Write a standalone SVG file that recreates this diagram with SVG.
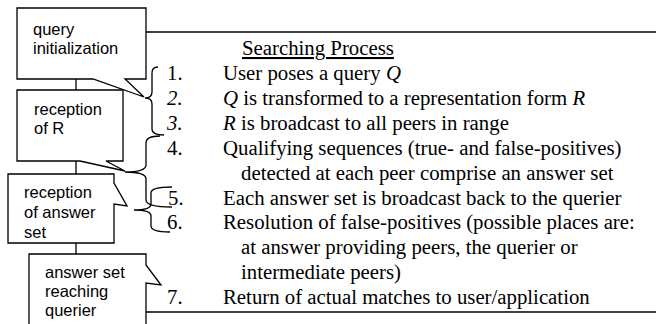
<svg xmlns="http://www.w3.org/2000/svg" width="656" height="324" viewBox="0 0 656 324">
<style>
.box{fill:#fff;stroke:#000;stroke-width:1.3;stroke-linejoin:miter}
.ln{fill:none;stroke:#000;stroke-width:1.3}
.bt{font-family:"Liberation Sans",Arial,sans-serif;font-size:16.5px;fill:#000}
.st{font-family:"Liberation Serif","Times New Roman",serif;font-size:20.8px;fill:#000}
.it{font-style:italic}
</style>
<rect width="656" height="324" fill="#fff"/>
<g id="connectors">
<path class="ln" d="M146,32 H656"/>
<path class="ln" d="M146,312 H656"/>
<path class="ln" d="M76,79 V90 M76,161 V174 M76,243 V254"/>
<path class="ln" d="M158,67 Q152,67 152,73 L152,92 Q152,98 145,98 Q152,98 152,104 L152,129 Q152,135 164,135"/>
<path class="ln" d="M160,136 Q146,136 146,143 L146,165 Q146,172 125,172 Q146,172 146,179 L146,200 Q146,207 172,207"/>
<path class="ln" d="M172,187 Q151,187 151,193 L151,204 Q151,210 134,210 Q151,210 151,216 L151,226 Q151,232 170,232"/>
</g>
<g id="n1">
<path class="box" d="M17,8 H146 V79 H125 L144,97 L93,79 H17 Z"/>
<text class="bt" x="33" y="35">query</text>
<text class="bt" x="33" y="54">initialization</text>
</g>
<g id="n2">
<path class="box" d="M17,90 H123 V161 H106 L125,171 L80,161 H17 Z"/>
<text class="bt" x="34" y="115">reception</text>
<text class="bt" x="34" y="134">of R</text>
</g>
<g id="n3">
<path class="box" d="M8,174 H114 V183 L127,206 L114,204 V243 H8 Z"/>
<text class="bt" x="24" y="198">reception</text>
<text class="bt" x="24" y="218">of answer</text>
<text class="bt" x="24" y="238">set</text>
</g>
<g id="n4">
<path class="box" d="M29,330 V254 H146 V265 L161,285 L146,283 V330 Z"/>
<text class="bt" x="45" y="278">answer set</text>
<text class="bt" x="45" y="297">reaching</text>
<text class="bt" x="45" y="316">querier</text>
</g>
<g id="process">
<text class="st" x="242" y="55" text-decoration="underline">Searching Process</text>
<text class="st" x="167" y="80">1.</text>
<text class="st" x="223" y="80">User poses a query <tspan class="it">Q</tspan></text>
<text class="st it" x="167" y="104.9">2.</text>
<text class="st" x="223" y="104.9"><tspan class="it">Q</tspan> is transformed to a representation form <tspan class="it">R</tspan></text>
<text class="st it" x="167" y="129.8">3.</text>
<text class="st" x="223" y="129.8"><tspan class="it">R</tspan> is broadcast to all peers in range</text>
<text class="st" x="167" y="154.7">4.</text>
<text class="st" x="223" y="154.7">Qualifying sequences (true- and false-positives)</text>
<text class="st" x="241" y="179.6">detected at each peer comprise an answer set</text>
<text class="st" x="168" y="204.5">5.</text>
<text class="st" x="223" y="204.5">Each answer set is broadcast back to the querier</text>
<text class="st" x="167" y="229.4">6.</text>
<text class="st" x="223" y="229.4">Resolution of false-positives (possible places are:</text>
<text class="st" x="241" y="254.3">at answer providing peers, the querier or</text>
<text class="st" x="241" y="279.2">intermediate peers)</text>
<text class="st" x="167" y="304.1">7.</text>
<text class="st" x="223" y="304.1">Return of actual matches to user/application</text>
</g>
</svg>
